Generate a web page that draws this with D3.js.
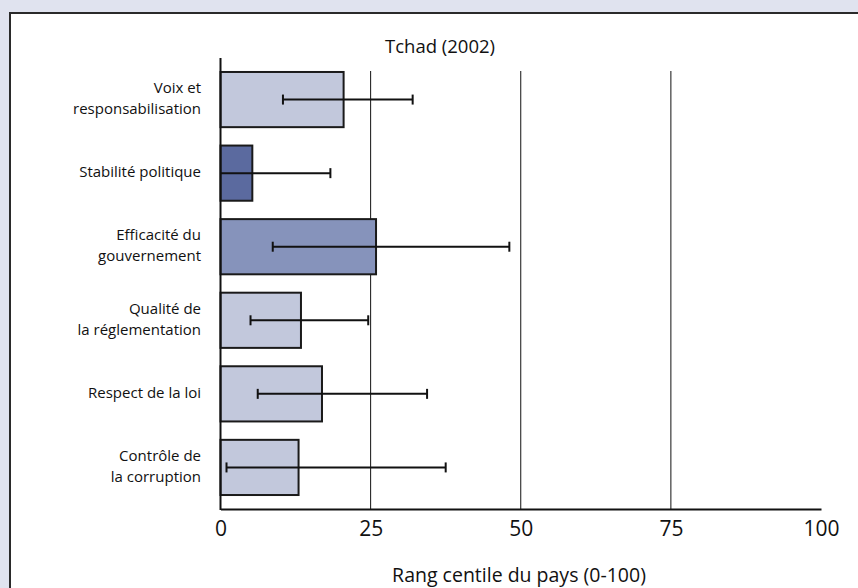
<!DOCTYPE html>
<html>
<head>
<meta charset="utf-8">
<script src="https://cdn.jsdelivr.net/npm/d3@7"></script>
<style>
  html, body { margin: 0; padding: 0; background: #e0e3ef; }
  svg { display: block; }
  text { font-family: "Open Sans", "Lato", sans-serif; fill: #111; }
</style>
</head>
<body>
<script>
const categories = [
  ["Voix et", "responsabilisation"],
  ["Stabilité politique"],
  ["Efficacité du", "gouvernement"],
  ["Qualité de", "la réglementation"],
  ["Respect de la loi"],
  ["Contrôle de", "la corruption"]
];
const values = [20.5, 5.3, 25.9, 13.4, 16.9, 13.0];
const lowerBounds = [10.4, 0, 8.7, 5.0, 6.2, 1.0];
const upperBounds = [32.0, 18.3, 48.1, 24.6, 34.4, 37.5];
const barColors = ["#c2c8dc", "#5b6a9f", "#8693bb", "#c2c8dc", "#c2c8dc", "#c2c8dc"];
const ticks = [0, 25, 50, 75, 100];
const title = "Tchad (2002)";
const xLabel = "Rang centile du pays (0-100)";

const W = 858, H = 588;
const svg = d3.select("body").append("svg").attr("width", W).attr("height", H);

// panel
svg.append("rect").attr("x", 10).attr("y", 13).attr("width", W).attr("height", H)
  .attr("fill", "#fff").attr("stroke", "#2a2a2a").attr("stroke-width", 2);

const x = d3.scaleLinear().domain([0, 100]).range([220.5, 821]);
const ids = categories.map((d, i) => i);
const y = d3.scaleBand().domain(ids).range([58, 509]).paddingInner(0.25).paddingOuter(0.19);

// gridlines
svg.append("g").selectAll("line").data(ticks.filter(t => t > 0 && t < 100)).join("line")
  .attr("x1", d => x(d)).attr("x2", d => x(d))
  .attr("y1", 71).attr("y2", 509)
  .attr("stroke", "#111").attr("stroke-width", 1);

// bars
svg.append("g").selectAll("rect").data(ids).join("rect")
  .attr("x", x(0)).attr("y", i => y(i))
  .attr("width", i => x(values[i]) - x(0))
  .attr("height", y.bandwidth())
  .attr("fill", i => barColors[i])
  .attr("stroke", "#1a1a1a").attr("stroke-width", 2);

// error bars
const eb = svg.append("g");
ids.forEach(i => {
  const cy = y(i) + y.bandwidth() / 2;
  eb.append("line").attr("x1", x(lowerBounds[i])).attr("x2", x(upperBounds[i]))
    .attr("y1", cy).attr("y2", cy).attr("stroke", "#111").attr("stroke-width", 2);
  if (lowerBounds[i] > 0) {
    eb.append("line").attr("x1", x(lowerBounds[i])).attr("x2", x(lowerBounds[i]))
      .attr("y1", cy - 5).attr("y2", cy + 5).attr("stroke", "#111").attr("stroke-width", 2);
  }
  eb.append("line").attr("x1", x(upperBounds[i])).attr("x2", x(upperBounds[i]))
    .attr("y1", cy - 5).attr("y2", cy + 5).attr("stroke", "#111").attr("stroke-width", 2);
});

// y axis line
svg.append("line").attr("x1", x(0)).attr("x2", x(0)).attr("y1", 58).attr("y2", 510)
  .attr("stroke", "#111").attr("stroke-width", 2);
// x axis
const xAxis = d3.axisBottom(x).tickValues(ticks).tickSize(0).tickPadding(12);
const gx = svg.append("g").attr("transform", "translate(0,509)").call(xAxis);
gx.select(".domain").attr("stroke", "#111").attr("stroke-width", 2);
gx.selectAll("text").attr("font-size", 21).attr("font-family", "'Open Sans', sans-serif").attr("fill", "#111");

// category labels
const lab = svg.append("g");
ids.forEach(i => {
  const lines = categories[i];
  const cy = y(i) + y.bandwidth() / 2;
  const lh = 21;
  const t = lab.append("text").attr("text-anchor", "end").attr("font-size", 15);
  lines.forEach((l, k) => {
    t.append("tspan").attr("x", 201)
      .attr("y", cy + (k - (lines.length - 1) / 2) * lh + 4)
      .text(l);
  });
});

// title
svg.append("text").attr("x", 440).attr("y", 53).attr("text-anchor", "middle")
  .attr("font-size", 18.5).text(title);
// x label
svg.append("text").attr("x", 519).attr("y", 582).attr("text-anchor", "middle")
  .attr("font-size", 19.5).text(xLabel);
</script>
</body>
</html>
